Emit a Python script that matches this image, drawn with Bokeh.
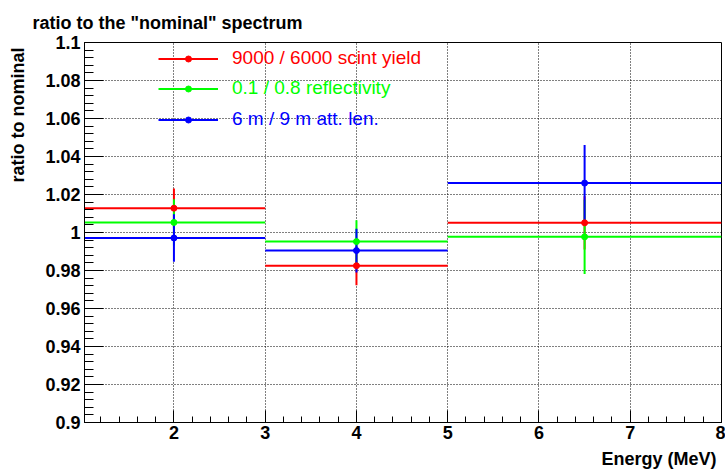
from bokeh.plotting import figure
from bokeh.models import (ColumnDataSource, Range1d, SingleIntervalTicker,
                          CustomJSTickFormatter, Legend, LegendItem)
from bokeh.embed import file_html
from bokeh.resources import INLINE

# ---- data ----
bin_edges = [1.0, 3.0, 5.0, 8.0]
bin_centers = [2.0, 4.0, 6.5]
series_labels = ["9000 / 6000 scint yield", "0.1 / 0.8 reflectivity", "6 m / 9 m att. len."]
scint_ratio = [1.0128, 0.9825, 1.0051]
scint_err = [0.0104, 0.0103, 0.0140]
refl_ratio = [1.0053, 0.9952, 0.9977]
refl_err = [0.0122, 0.0113, 0.0195]
att_ratio = [0.9971, 0.9905, 1.0260]
att_err = [0.0125, 0.0115, 0.0200]
colors = ["#ff0000", "#00ff00", "#0000ff"]

title_text = 'ratio to the "nominal" spectrum'
x_title = "Energy (MeV)"
y_title = "ratio to nominal"

FONT = "Liberation Sans"
NBSP = "\u00a0"

p = figure(width=725, height=471, x_range=Range1d(1.02, 8.0), y_range=Range1d(0.9, 1.1),
           output_backend="svg", toolbar_location=None, title=title_text,
           min_border_left=84, min_border_right=4, min_border_top=42, min_border_bottom=46,
           background_fill_color="white", border_fill_color="white",
           outline_line_color="black", outline_line_width=1)

p.title.text_font = FONT
p.title.text_font_style = "bold"
p.title.text_font_size = "18px"
p.title.text_color = "black"
p.title.align = "left"
p.title.vertical_align = "bottom"
p.title.offset = -52
p.title.standoff = 20

# axes
xt = SingleIntervalTicker(interval=1, num_minor_ticks=5)
yt = SingleIntervalTicker(interval=0.02, num_minor_ticks=5)
p.xaxis.ticker = xt
p.yaxis.ticker = yt
p.xgrid.ticker = xt
p.ygrid.ticker = yt
p.yaxis.formatter = CustomJSTickFormatter(code="return String(Math.round(tick*1000)/1000);")
for ax in (p.xaxis[0], p.yaxis[0]):
    ax.axis_line_color = "black"
    ax.axis_line_width = 1
    ax.major_tick_out = 0
    ax.minor_tick_out = 0
    ax.major_tick_line_color = "black"
    ax.minor_tick_line_color = "black"
    ax.major_label_text_font = FONT
    ax.major_label_text_font_style = "bold"
    ax.major_label_text_font_size = "18px"
    ax.major_label_text_color = "black"
    ax.axis_label_text_font = FONT
    ax.axis_label_text_font_style = "bold"
    ax.axis_label_text_font_size = "18px"
    ax.axis_label_text_color = "black"
    ax.axis_label_align = "end"
# axis titles sit at the axis end (ROOT style): the centred label is padded
# with non-breaking spaces so that its visible part ends at the axis end
p.xaxis.axis_label = x_title + NBSP * 25
p.yaxis.axis_label = y_title + NBSP * 29
p.xaxis.axis_label_standoff = 7
p.yaxis.axis_label_standoff = 14
p.xaxis.major_tick_in = 12
p.xaxis.minor_tick_in = 6
p.yaxis.major_tick_in = 19
p.yaxis.minor_tick_in = 9
p.xaxis.major_label_standoff = 3
p.yaxis.major_label_standoff = 4
p.yaxis.major_label_text_baseline = "hanging"

for g in (p.xgrid[0], p.ygrid[0]):
    g.grid_line_color = "black"
    g.grid_line_dash = "1 2"
    g.grid_line_width = 1

# data renderers: lines first (red, green, blue), then markers
all_series = [(scint_ratio, scint_err), (refl_ratio, refl_err), (att_ratio, att_err)]
sources = []
line_renderers = []
for (vals, errs), col in zip(all_series, colors):
    src = ColumnDataSource(dict(
        x0=bin_edges[:-1], x1=bin_edges[1:], xc=bin_centers, y=vals,
        lo=[v - e for v, e in zip(vals, errs)], hi=[v + e for v, e in zip(vals, errs)]))
    sources.append(src)
    hr = p.segment(x0="x0", y0="y", x1="x1", y1="y", source=src, line_color=col, line_width=2)
    p.segment(x0="xc", y0="lo", x1="xc", y1="hi", source=src, line_color=col, line_width=2)
    line_renderers.append(hr)

marker_renderers = []
for src, col in zip(sources, colors):
    mr = p.scatter(x="xc", y="y", source=src, size=6, marker="circle",
                   fill_color=col, line_color=col)
    marker_renderers.append(mr)

# legends (one per series so each label has its own colour)
legend_bottoms = [353, 323, 292]
for lab, col, hr, mr, yb in zip(series_labels, colors, line_renderers, marker_renderers, legend_bottoms):
    lg = Legend(items=[LegendItem(label=lab, renderers=[hr, mr])], location=(74, yb),
                orientation="vertical", glyph_width=60, glyph_height=15, label_height=15,
                label_standoff=14, padding=0, margin=0, spacing=0,
                border_line_alpha=0, background_fill_alpha=0,
                label_text_font=FONT, label_text_font_size="19px", label_text_color=col,
                label_text_baseline="top")
    p.add_layout(lg)

open("out.html", "w").write(file_html(p, INLINE))
